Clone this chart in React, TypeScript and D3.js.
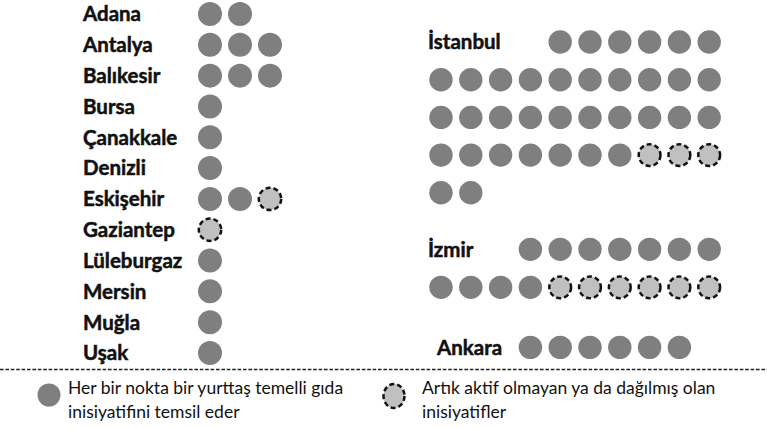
import * as d3 from "d3";
import { useEffect, useRef } from "react";

const leftCities = [
  "Adana", "Antalya", "Balıkesir", "Bursa", "Çanakkale", "Denizli",
  "Eskişehir", "Gaziantep", "Lüleburgaz", "Mersin", "Muğla", "Uşak",
];
const leftActive = [2, 3, 3, 1, 1, 1, 2, 0, 1, 1, 1, 1];
const leftInactive = [0, 0, 0, 0, 0, 0, 1, 1, 0, 0, 0, 0];

const rightCities = ["İstanbul", "İzmir", "Ankara"];
const rightActive = [33, 11, 6];
const rightInactive = [3, 6, 0];
const rightActiveAfter = [2, 0, 0]; // active dots drawn after the inactive ones

const legendLabels = [
  ["Her bir nokta bir yurttaş temelli gıda", "inisiyatifini temsil eder"],
  ["Artık aktif olmayan ya da dağılmış olan", "inisiyatifler"],
];

const W = 767;
const H = 428;
const ACTIVE = "#7f7f7f";
const INACTIVE = "#c0c0c0";
const labelFont = "Lato, 'Open Sans', sans-serif";

// layout of the right block: first grid row of each city, label width in columns
const rightStartRow = [0, 5.5, 8.1];
const rightLabelCols = [4, 3, 3];
const rightLabelX = [428, 428, 437];
const perRow = 10;

type Dot = { x: number; y: number; inactive: boolean };

export default function App() {
  const ref = useRef<SVGSVGElement>(null);

  useEffect(() => {
    const svg = d3.select(ref.current);
    svg.selectAll("*").remove();

    // left column
    const yLeft = d3.scalePoint<string>().domain(leftCities).range([14, 353]);
    const xLeft = d3.scaleLinear().domain([0, 1]).range([210, 240]);

    const gl = svg.append("g");
    gl.selectAll("text")
      .data(leftCities)
      .enter()
      .append("text")
      .attr("x", 83)
      .attr("y", (d) => yLeft(d)!)
      .attr("dy", "0.36em")
      .attr("font-family", labelFont)
      .attr("font-weight", 700)
      .attr("font-size", 20.5)
      .attr("fill", "#111")
      .attr("stroke", "#111")
      .attr("stroke-width", 0.5)
      .text((d) => d);

    const leftDots: Dot[] = [];
    leftCities.forEach((c, i) => {
      const n = leftActive[i] + leftInactive[i];
      d3.range(n).forEach((k) =>
        leftDots.push({ x: xLeft(k), y: yLeft(c)!, inactive: k >= leftActive[i] })
      );
    });

    // right block
    const yRight = d3.scaleLinear().domain([0, 1]).range([42, 79.7]);
    const xRight = d3.scaleLinear().domain([0, 1]).range([441, 470.8]);

    const gr = svg.append("g");
    gr.selectAll("text")
      .data(rightCities)
      .enter()
      .append("text")
      .attr("x", (_, i) => rightLabelX[i])
      .attr("y", (_, i) => yRight(rightStartRow[i]))
      .attr("dy", "0.36em")
      .attr("font-family", labelFont)
      .attr("font-weight", 700)
      .attr("font-size", 20.5)
      .attr("fill", "#111")
      .attr("stroke", "#111")
      .attr("stroke-width", 0.5)
      .text((d) => d);

    const rightDots: Dot[] = [];
    rightCities.forEach((_, i) => {
      const n = rightActive[i] + rightInactive[i] + rightActiveAfter[i];
      d3.range(n).forEach((k) => {
        const slot = k + rightLabelCols[i];
        const row = Math.floor(slot / perRow);
        const col = slot % perRow;
        let y = yRight(rightStartRow[i] + row);
        if (i === 1 && row > 0) y = yRight(rightStartRow[i]) + 38 * row;
        const inactive = k >= rightActive[i] && k < rightActive[i] + rightInactive[i];
        rightDots.push({ x: xRight(col), y, inactive });
      });
    });

    const drawDots = (g: d3.Selection<SVGGElement, unknown, null, undefined>, dots: Dot[], r: number) =>
      g.selectAll("circle")
        .data(dots)
        .enter()
        .append("circle")
        .attr("cx", (d) => d.x)
        .attr("cy", (d) => d.y)
        .attr("r", (d) => (d.inactive ? r - 0.8 : r))
        .attr("fill", (d) => (d.inactive ? INACTIVE : ACTIVE))
        .attr("stroke", (d) => (d.inactive ? "#111" : "none"))
        .attr("stroke-width", 2.5)
        .attr("stroke-dasharray", "5 3");

    drawDots(gl.append("g"), leftDots, 12);
    drawDots(gr.append("g"), rightDots, 11.7);

    // separator
    svg.append("line")
      .attr("x1", 0)
      .attr("x2", W)
      .attr("y1", 369.5)
      .attr("y2", 369.5)
      .attr("stroke", "#222")
      .attr("stroke-width", 1.6)
      .attr("stroke-dasharray", "3.6 1.8");

    // legend
    const lg = svg.append("g");
    lg.append("circle").attr("cx", 49).attr("cy", 395).attr("r", 11.5).attr("fill", ACTIVE);
    lg.append("ellipse")
      .attr("cx", 394)
      .attr("cy", 396)
      .attr("rx", 10.5)
      .attr("ry", 12)
      .attr("fill", INACTIVE)
      .attr("stroke", "#111")
      .attr("stroke-width", 2.5)
      .attr("stroke-dasharray", "5 3");

    const legendX = [68, 422];
    legendLabels.forEach((lines, i) => {
      const t = lg.append("text")
        .attr("font-family", labelFont)
        .attr("font-size", 17.5)
        .attr("fill", "#111");
      lines.forEach((line, j) =>
        t.append("tspan").attr("x", legendX[i]).attr("y", 394 + j * 24).text(line)
      );
    });
  }, []);

  return (
    <svg
      ref={ref}
      width={W}
      height={H}
      style={{ position: "absolute", left: 0, top: 0, background: "#fff" }}
    />
  );
}
